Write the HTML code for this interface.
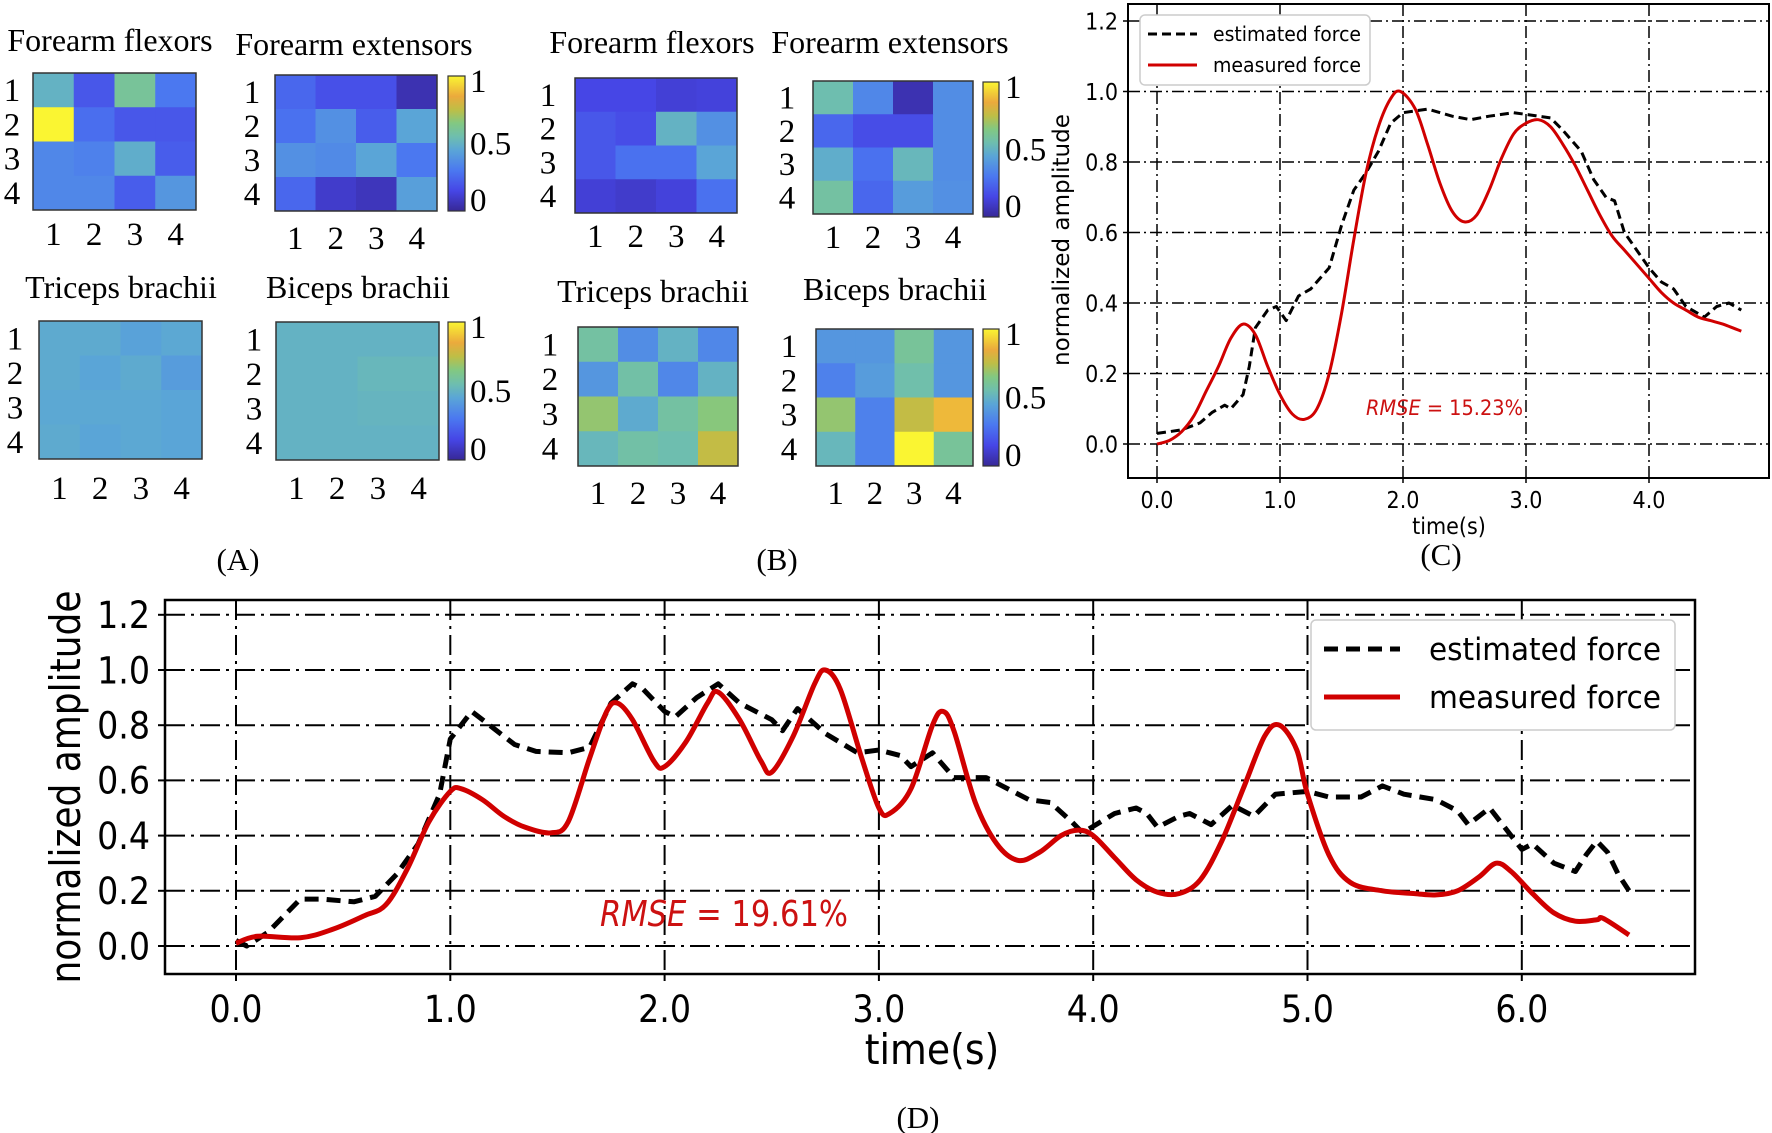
<!DOCTYPE html>
<html><head><meta charset="utf-8"><style>
html,body{margin:0;padding:0;background:#fff;}
svg{display:block;}
</style></head><body>
<svg id="fig" xmlns="http://www.w3.org/2000/svg" width="1772" height="1133" viewBox="0 0 1772 1133">
<rect x="0" y="0" width="1772" height="1133" fill="#fff"/>
<defs>
<linearGradient id="cbar" x1="0" y1="1" x2="0" y2="0">
<stop offset="0" stop-color="rgb(55,40,150)"/>
<stop offset="0.15" stop-color="rgb(70,70,230)"/>
<stop offset="0.3" stop-color="rgb(75,120,240)"/>
<stop offset="0.45" stop-color="rgb(90,165,215)"/>
<stop offset="0.55" stop-color="rgb(110,190,175)"/>
<stop offset="0.65" stop-color="rgb(130,200,130)"/>
<stop offset="0.75" stop-color="rgb(190,190,70)"/>
<stop offset="0.85" stop-color="rgb(235,170,60)"/>
<stop offset="1" stop-color="rgb(250,245,50)"/>
</linearGradient>
</defs>
<g id="layer"></g>
</svg>
<script>
// ---------- heatmap data ----------
const heatRows = ['1','2','3','4'];
const heatCols = ['1','2','3','4'];
const aFlexors = [[0.5,0.2,0.6,0.3],[1.0,0.27,0.2,0.2],[0.35,0.33,0.48,0.22],[0.35,0.35,0.22,0.4]];
const aExtensors = [[0.25,0.18,0.18,0.05],[0.28,0.38,0.22,0.45],[0.38,0.36,0.45,0.3],[0.25,0.1,0.07,0.43]];
const aTriceps = [[0.47,0.47,0.44,0.46],[0.47,0.45,0.47,0.42],[0.46,0.46,0.46,0.45],[0.47,0.45,0.46,0.45]];
const aBiceps = [[0.5,0.5,0.5,0.5],[0.5,0.5,0.52,0.52],[0.5,0.5,0.51,0.51],[0.5,0.5,0.5,0.5]];
const bFlexors = [[0.15,0.15,0.12,0.13],[0.2,0.17,0.5,0.38],[0.2,0.28,0.28,0.45],[0.12,0.1,0.13,0.28]];
const bExtensors = [[0.55,0.35,0.05,0.37],[0.25,0.17,0.17,0.37],[0.48,0.28,0.52,0.37],[0.58,0.25,0.42,0.38]];
const bTriceps = [[0.58,0.37,0.5,0.35],[0.4,0.57,0.35,0.5],[0.68,0.47,0.58,0.66],[0.52,0.57,0.55,0.76]];
const bBiceps = [[0.4,0.4,0.6,0.4],[0.33,0.42,0.56,0.4],[0.68,0.33,0.76,0.88],[0.52,0.33,1.0,0.6]];
const cbarTicks = [0, 0.5, 1];
const cbarTickLabels = ['0','0.5','1'];

// ---------- panel C data ----------
const cXTicks = [0,1,2,3,4];
const cXTickLabels = ['0.0','1.0','2.0','3.0','4.0'];
const cYTicks = [0,0.2,0.4,0.6,0.8,1.0,1.2];
const cYTickLabels = ['0.0','0.2','0.4','0.6','0.8','1.0','1.2'];
const cMeasT = [0,0.1,0.2,0.3,0.4,0.5,0.6,0.7,0.8,0.9,1.0,1.1,1.2,1.3,1.4,1.5,1.6,1.7,1.8,1.9,1.98,2.1,2.2,2.3,2.4,2.5,2.6,2.7,2.8,2.9,3.0,3.1,3.2,3.3,3.4,3.5,3.6,3.7,3.8,3.9,4.0,4.1,4.2,4.3,4.4,4.5,4.6,4.75];
const cMeasV = [0,0.01,0.035,0.08,0.15,0.22,0.3,0.34,0.31,0.22,0.14,0.085,0.07,0.1,0.2,0.37,0.58,0.77,0.9,0.98,1.0,0.95,0.85,0.74,0.66,0.63,0.65,0.72,0.81,0.88,0.91,0.92,0.9,0.85,0.79,0.72,0.65,0.59,0.55,0.51,0.47,0.43,0.4,0.38,0.36,0.35,0.34,0.32];
const cEstT = [0,0.2,0.35,0.45,0.55,0.6,0.7,0.75,0.8,0.9,0.97,1.05,1.15,1.25,1.4,1.5,1.6,1.7,1.8,1.9,2.0,2.2,2.4,2.55,2.7,2.9,3.0,3.2,3.3,3.45,3.55,3.65,3.72,3.8,3.9,4.0,4.1,4.2,4.3,4.45,4.55,4.65,4.75];
const cEstV = [0.03,0.04,0.06,0.09,0.11,0.1,0.14,0.22,0.33,0.38,0.39,0.35,0.42,0.44,0.5,0.62,0.72,0.77,0.83,0.91,0.94,0.95,0.93,0.92,0.93,0.94,0.935,0.925,0.89,0.83,0.75,0.7,0.69,0.6,0.55,0.5,0.46,0.44,0.39,0.36,0.39,0.4,0.38];

// ---------- panel D data ----------
const dXTicks = [0,1,2,3,4,5,6];
const dXTickLabels = ['0.0','1.0','2.0','3.0','4.0','5.0','6.0'];
const dYTicks = [0,0.2,0.4,0.6,0.8,1.0,1.2];
const dYTickLabels = ['0.0','0.2','0.4','0.6','0.8','1.0','1.2'];
const dMeasT = [0,0.1,0.3,0.45,0.6,0.7,0.8,0.9,1.0,1.05,1.15,1.25,1.35,1.47,1.55,1.65,1.73,1.78,1.85,1.95,2.0,2.1,2.2,2.25,2.35,2.45,2.5,2.6,2.7,2.75,2.82,2.92,3.0,3.05,3.15,3.25,3.3,3.35,3.45,3.55,3.65,3.75,3.85,3.93,4.0,4.1,4.2,4.3,4.4,4.5,4.6,4.7,4.8,4.87,4.95,5.0,5.1,5.2,5.35,5.5,5.6,5.7,5.8,5.88,5.95,6.05,6.15,6.25,6.35,6.38,6.5];
const dMeasV = [0.01,0.035,0.03,0.06,0.11,0.15,0.28,0.45,0.56,0.57,0.53,0.47,0.43,0.41,0.45,0.68,0.85,0.88,0.82,0.67,0.65,0.74,0.88,0.92,0.82,0.67,0.63,0.76,0.95,1.0,0.93,0.68,0.5,0.48,0.57,0.8,0.85,0.78,0.52,0.37,0.31,0.34,0.4,0.42,0.4,0.32,0.24,0.195,0.19,0.24,0.38,0.57,0.76,0.8,0.71,0.55,0.33,0.23,0.2,0.19,0.185,0.2,0.25,0.3,0.27,0.19,0.12,0.09,0.095,0.1,0.04];
const dEstT = [0,0.05,0.15,0.3,0.4,0.55,0.65,0.75,0.85,0.95,1.0,1.1,1.2,1.3,1.4,1.55,1.65,1.75,1.85,1.9,2.0,2.05,2.15,2.25,2.35,2.5,2.55,2.62,2.75,2.9,3.0,3.1,3.15,3.25,3.35,3.5,3.7,3.8,3.9,3.95,4.1,4.2,4.25,4.3,4.4,4.45,4.5,4.55,4.65,4.75,4.85,5.0,5.1,5.25,5.35,5.45,5.6,5.7,5.75,5.85,5.95,6.0,6.05,6.15,6.25,6.3,6.35,6.4,6.45,6.5];
const dEstV = [0.02,0.0,0.05,0.17,0.17,0.16,0.18,0.26,0.37,0.55,0.75,0.85,0.79,0.73,0.705,0.7,0.72,0.88,0.95,0.93,0.85,0.83,0.9,0.95,0.88,0.82,0.78,0.86,0.77,0.7,0.71,0.69,0.65,0.7,0.61,0.61,0.53,0.52,0.45,0.41,0.48,0.5,0.48,0.43,0.47,0.48,0.46,0.44,0.51,0.47,0.55,0.56,0.54,0.54,0.58,0.55,0.53,0.49,0.44,0.5,0.4,0.35,0.37,0.3,0.27,0.33,0.38,0.34,0.26,0.2];

const NS = 'http://www.w3.org/2000/svg';
const layer = document.getElementById('layer');
function mk(tag, parent){ const e = document.createElementNS(NS, tag); (parent||layer).appendChild(e); return e; }

const cmapStops = [[0,55,40,150],[0.15,70,70,230],[0.3,75,120,240],[0.45,90,165,215],[0.55,110,190,175],[0.65,130,200,130],[0.75,190,190,70],[0.85,235,170,60],[1,250,245,50]];
function cmap(v){
  v = Math.max(0, Math.min(1, v));
  for (let i=1;i<cmapStops.length;i++){
    const a=cmapStops[i-1], b=cmapStops[i];
    if (v<=b[0]){ const t=(v-a[0])/(b[0]-a[0]); return 'rgb('+[1,2,3].map(k=>Math.round(a[k]+(b[k]-a[k])*t)).join(',')+')'; }
  }
  return 'rgb(250,245,50)';
}
const SERIF = '"Liberation Serif", serif';
const SANS = '"DejaVu Sans Condensed","DejaVu Sans","Liberation Sans",sans-serif';

function heatmap(name, vals, x, y, w, h, title, tx, ty, rowX, colY){
  const g = mk('g');
  
  
  const cw = w/4, ch = h/4;
  for (let r=0;r<4;r++) for (let c=0;c<4;c++){
    const cell = mk('rect', g);
    cell.setAttribute('x', x+c*cw); cell.setAttribute('y', y+r*ch);
    cell.setAttribute('width', cw+0.5); cell.setAttribute('height', ch+0.5);
    cell.setAttribute('fill', cmap(vals[r][c]));
    
    
  }
  const fr = mk('rect', g);
  fr.setAttribute('x', x); fr.setAttribute('y', y); fr.setAttribute('width', w); fr.setAttribute('height', h);
  fr.setAttribute('fill','none'); fr.setAttribute('stroke','#333'); fr.setAttribute('stroke-width','1.5');
  
  
  const t = mk('text', g);
  t.textContent = title;
  t.setAttribute('x', tx); t.setAttribute('y', ty); t.setAttribute('text-anchor','middle');
  t.setAttribute('font-family', SERIF); t.setAttribute('font-size','32');
  
  
  for (let r=0;r<4;r++){
    const rl = mk('text', g);
    rl.textContent = heatRows[r];
    rl.setAttribute('x', rowX); rl.setAttribute('y', y+(r+0.5)*ch+11); rl.setAttribute('text-anchor','middle');
    rl.setAttribute('font-family', SERIF); rl.setAttribute('font-size','33');
    
    
  }
  for (let c=0;c<4;c++){
    const cl = mk('text', g);
    cl.textContent = heatCols[c];
    cl.setAttribute('x', x+(c+0.5)*cw); cl.setAttribute('y', colY); cl.setAttribute('text-anchor','middle');
    cl.setAttribute('font-family', SERIF); cl.setAttribute('font-size','33');
    
    
  }
}
function colorbar(name, x, y, w, h, lx){
  const g = mk('g');
  
  
  const r = mk('rect', g);
  r.setAttribute('x', x); r.setAttribute('y', y); r.setAttribute('width', w); r.setAttribute('height', h);
  r.setAttribute('fill','url(#cbar)'); r.setAttribute('stroke','#333'); r.setAttribute('stroke-width','1.2');
  
  
  for (let i=0;i<cbarTicks.length;i++){
    const t = mk('text', g);
    t.textContent = cbarTickLabels[i];
    t.setAttribute('x', lx); t.setAttribute('y', y+h-cbarTicks[i]*h+ (i==0?0:(i==2?16:11)));
    t.setAttribute('font-family', SERIF); t.setAttribute('font-size','33');
    
    
  }
}
function label(txt, x, y, name){
  const t = mk('text');
  t.textContent = txt;
  t.setAttribute('x', x); t.setAttribute('y', y); t.setAttribute('text-anchor','middle');
  t.setAttribute('font-family', SERIF); t.setAttribute('font-size','31');
  
  
}

// Panel A
heatmap('a-forearm-flexors', aFlexors, 33, 73, 163, 137, 'Forearm flexors', 110, 51, 12, 245);
heatmap('a-forearm-extensors', aExtensors, 275, 75, 162, 136, 'Forearm extensors', 354, 55, 252, 249);
colorbar('a-colorbar-top', 448, 76, 17, 135, 470);
heatmap('a-triceps-brachii', aTriceps, 39, 321, 163, 138, 'Triceps brachii', 121, 298, 15, 499);
heatmap('a-biceps-brachii', aBiceps, 276, 322, 163, 138, 'Biceps brachii', 358, 298, 254, 499);
colorbar('a-colorbar-bottom', 448, 322, 17, 138, 470);
label('(A)', 238, 570, 'panel-a-label');
// Panel B
heatmap('b-forearm-flexors', bFlexors, 575, 78, 162, 135, 'Forearm flexors', 652, 53, 548, 247);
heatmap('b-forearm-extensors', bExtensors, 813, 81, 160, 133, 'Forearm extensors', 890, 53, 787, 248);
colorbar('b-colorbar-top', 983, 82, 16, 135, 1005);
heatmap('b-triceps-brachii', bTriceps, 578, 327, 160, 139, 'Triceps brachii', 653, 302, 550, 504);
heatmap('b-biceps-brachii', bBiceps, 816, 329, 157, 137, 'Biceps brachii', 895, 300, 789, 504);
colorbar('b-colorbar-bottom', 983, 329, 16, 137, 1005);
label('(B)', 777, 570, 'panel-b-label');

// ---------- line plots ----------
function catmull(pts){
  let d = 'M'+pts[0][0].toFixed(1)+','+pts[0][1].toFixed(1);
  for (let i=0;i<pts.length-1;i++){
    const p0=pts[i-1]||pts[i], p1=pts[i], p2=pts[i+1], p3=pts[i+2]||p2;
    const c1=[p1[0]+(p2[0]-p0[0])/6, p1[1]+(p2[1]-p0[1])/6];
    const c2=[p2[0]-(p3[0]-p1[0])/6, p2[1]-(p3[1]-p1[1])/6];
    d += 'C'+c1[0].toFixed(1)+','+c1[1].toFixed(1)+' '+c2[0].toFixed(1)+','+c2[1].toFixed(1)+' '+p2[0].toFixed(1)+','+p2[1].toFixed(1);
  }
  return d;
}
function plot(P){
  const g = mk('g');
  
  
  const X = t => P.x0 + t*P.pxs;
  const Y = v => P.y0 - v*P.pyu;
  for (let i=0;i<P.xt.length;i++){
    const l = mk('line', g);
    l.setAttribute('x1', X(P.xt[i])); l.setAttribute('x2', X(P.xt[i])); l.setAttribute('y1', P.top); l.setAttribute('y2', P.bot);
    l.setAttribute('stroke','#000'); l.setAttribute('stroke-width', P.gw); l.setAttribute('stroke-dasharray', P.gd);
    
    
    const tk = mk('line', g);
    tk.setAttribute('x1', X(P.xt[i])); tk.setAttribute('x2', X(P.xt[i])); tk.setAttribute('y1', P.bot); tk.setAttribute('y2', P.bot+P.tick);
    tk.setAttribute('stroke','#000'); tk.setAttribute('stroke-width', P.gw);
    
    
    const t = mk('text', g);
    t.textContent = P.xtl[i];
    t.setAttribute('x', X(P.xt[i])); t.setAttribute('y', P.xly); t.setAttribute('text-anchor','middle');
    t.setAttribute('font-family', SANS); t.setAttribute('font-size', P.fs);
    
    
  }
  for (let i=0;i<P.yt.length;i++){
    const l = mk('line', g);
    l.setAttribute('x1', P.left); l.setAttribute('x2', P.right); l.setAttribute('y1', Y(P.yt[i])); l.setAttribute('y2', Y(P.yt[i]));
    l.setAttribute('stroke','#000'); l.setAttribute('stroke-width', P.gw); l.setAttribute('stroke-dasharray', P.gd);
    
    
    const tk = mk('line', g);
    tk.setAttribute('x1', P.left-P.tick); tk.setAttribute('x2', P.left); tk.setAttribute('y1', Y(P.yt[i])); tk.setAttribute('y2', Y(P.yt[i]));
    tk.setAttribute('stroke','#000'); tk.setAttribute('stroke-width', P.gw);
    
    
    const t = mk('text', g);
    t.textContent = P.ytl[i];
    t.setAttribute('x', P.ylx); t.setAttribute('y', Y(P.yt[i])+P.fs*0.36); t.setAttribute('text-anchor','end');
    t.setAttribute('font-family', SANS); t.setAttribute('font-size', P.fs);
    
    
  }
  const est = mk('polyline', g);
  est.setAttribute('points', P.et.map((t,i)=>X(t).toFixed(1)+','+Y(P.ev[i]).toFixed(1)).join(' '));
  est.setAttribute('fill','none'); est.setAttribute('stroke','#000'); est.setAttribute('stroke-width', P.lw);
  est.setAttribute('stroke-dasharray', P.ld); est.setAttribute('stroke-linejoin','round');
  
  
  const meas = mk('path', g);
  meas.setAttribute('d', catmull(P.mt.map((t,i)=>[X(t), Y(P.mv[i])])));
  meas.setAttribute('fill','none'); meas.setAttribute('stroke','#d00000'); meas.setAttribute('stroke-width', P.lw);
  meas.setAttribute('stroke-linejoin','round');
  
  
  const fr = mk('rect', g);
  fr.setAttribute('x', P.left); fr.setAttribute('y', P.top); fr.setAttribute('width', P.right-P.left); fr.setAttribute('height', P.bot-P.top);
  fr.setAttribute('fill','none'); fr.setAttribute('stroke','#000'); fr.setAttribute('stroke-width', P.fw);
  
  
  const xl = mk('text', g);
  xl.textContent = 'time(s)';
  xl.setAttribute('x', P.xtx); xl.setAttribute('y', P.xty); xl.setAttribute('text-anchor','middle');
  xl.setAttribute('font-family', SANS); xl.setAttribute('font-size', P.tfs);
  
  
  const yl = mk('text', g);
  yl.textContent = 'normalized amplitude';
  yl.setAttribute('x', 0); yl.setAttribute('y', 0); yl.setAttribute('text-anchor','middle');
  yl.setAttribute('transform', 'translate('+P.ytx+','+P.yty+') rotate(-90)');
  yl.setAttribute('font-family', SANS); yl.setAttribute('font-size', P.tfs);
  yl.setAttribute('textLength', P.ylen); yl.setAttribute('lengthAdjust','spacingAndGlyphs');
  
  
  const L = P.leg;
  const lb = mk('rect', g);
  lb.setAttribute('x', L.x); lb.setAttribute('y', L.y); lb.setAttribute('width', L.w); lb.setAttribute('height', L.h);
  lb.setAttribute('rx', 5); lb.setAttribute('fill','#fff'); lb.setAttribute('stroke','#ccc'); lb.setAttribute('stroke-width','1.5');
  
  
  const l1 = mk('line', g);
  l1.setAttribute('x1', L.lx1); l1.setAttribute('x2', L.lx2); l1.setAttribute('y1', L.r1); l1.setAttribute('y2', L.r1);
  l1.setAttribute('stroke','#000'); l1.setAttribute('stroke-width', P.lw); l1.setAttribute('stroke-dasharray', P.ld);
  
  
  const t1 = mk('text', g);
  t1.textContent = 'estimated force';
  t1.setAttribute('x', L.tx); t1.setAttribute('y', L.r1+L.fs*0.36);
  t1.setAttribute('font-family', SANS); t1.setAttribute('font-size', L.fs);
  t1.setAttribute('textLength', L.tw); t1.setAttribute('lengthAdjust','spacingAndGlyphs');
  
  
  const l2 = mk('line', g);
  l2.setAttribute('x1', L.lx1); l2.setAttribute('x2', L.lx2); l2.setAttribute('y1', L.r2); l2.setAttribute('y2', L.r2);
  l2.setAttribute('stroke','#d00000'); l2.setAttribute('stroke-width', P.lw);
  
  
  const t2 = mk('text', g);
  t2.textContent = 'measured force';
  t2.setAttribute('x', L.tx); t2.setAttribute('y', L.r2+L.fs*0.36);
  t2.setAttribute('font-family', SANS); t2.setAttribute('font-size', L.fs);
  t2.setAttribute('textLength', L.tw); t2.setAttribute('lengthAdjust','spacingAndGlyphs');
  
  
  const rm = mk('text', g);
  rm.setAttribute('x', P.rx); rm.setAttribute('y', P.ry);
  rm.setAttribute('font-family', SANS); rm.setAttribute('font-size', P.rfs); rm.setAttribute('fill','#cc1111');
  rm.setAttribute('textLength', P.rw); rm.setAttribute('lengthAdjust','spacingAndGlyphs');
  
  
  const s1 = mk('tspan', rm); s1.textContent = 'RMSE'; s1.setAttribute('font-style','italic');
  const s2 = mk('tspan', rm); s2.textContent = ' = ' + P.rmse;
}

plot({name:'panel-c-chart', x0:1157, pxs:123, y0:444, pyu:352.5, left:1128, right:1769, top:4, bot:478,
  xt:cXTicks, xtl:cXTickLabels, yt:cYTicks, ytl:cYTickLabels, gw:1.5, gd:'12 4 2 4', fw:2, tick:5,
  fs:23, xly:508, ylx:1118, lw:3, ld:'9 5',
  mt:cMeasT, mv:cMeasV, et:cEstT, ev:cEstV,
  xtx:1449, xty:534, tfs:23, ytx:1069, yty:240, ylen:252,
  leg:{x:1140, y:15, w:230, h:70, lx1:1148, lx2:1197, r1:34, r2:65, tx:1213, tw:148, fs:20},
  rx:1366, ry:415, rfs:21, rw:157, rmse:'15.23%'});
label('(C)', 1441, 565, 'panel-c-label');

plot({name:'panel-d-chart', x0:236, pxs:214.3, y0:946, pyu:276, left:165, right:1695, top:600, bot:974,
  xt:dXTicks, xtl:dXTickLabels, yt:dYTicks, ytl:dYTickLabels, gw:2, gd:'20 6 3 6', fw:2.5, tick:7,
  fs:37, xly:1022, ylx:150, lw:5, ld:'14 8',
  mt:dMeasT, mv:dMeasV, et:dEstT, ev:dEstV,
  xtx:932, xty:1064, tfs:42, ytx:80, yty:787, ylen:393,
  leg:{x:1311, y:620, w:364, h:110, lx1:1324, lx2:1400, r1:649, r2:697, tx:1429, tw:232, fs:31},
  rx:600, ry:926, rfs:36, rw:248, rmse:'19.61%'});
label('(D)', 918, 1128, 'panel-d-label');
</script>
</body></html>
